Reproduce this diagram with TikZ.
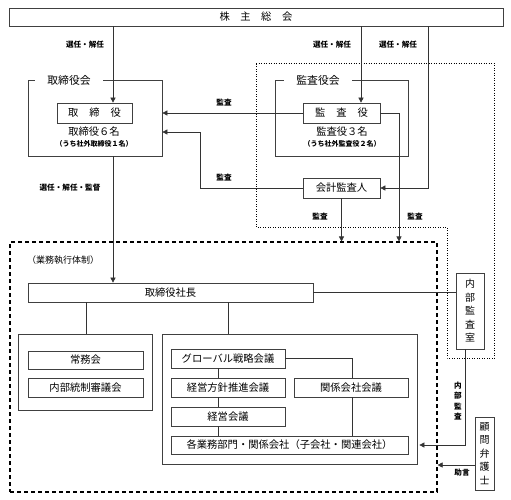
\documentclass[tikz,border=0pt]{standalone}
\usepackage{fontspec}
\setmainfont{Noto Sans CJK JP}
\usetikzlibrary{arrows.meta,calc}
\begin{document}
\begin{tikzpicture}[x=1pt,y=-1pt,
  box/.style={draw=black!75, line width=0.7pt, fill=white, inner sep=0pt, anchor=center,
    font=\fontsize{10.3}{12}\selectfont},
  bigbox/.style={draw=black!75, line width=0.7pt, inner sep=0pt, anchor=center},
  lbl/.style={font=\fontsize{7.6}{9}\selectfont\bfseries, inner sep=1pt},
  ttl/.style={font=\fontsize{10.8}{12}\selectfont, fill=white, inner ysep=2pt, inner xsep=12pt},
  ln/.style={line width=0.6pt, draw=black!80},
  arr/.style={ln, -{Triangle[length=5pt,width=5pt]}}]
\useasboundingbox (0,0) rectangle (511,499);
\fill[white] (0,0) rectangle (511,499);
% dotted audit region
\draw[dotted, line width=0.5pt] (256,63) -- (494,63) -- (494,358) -- (447,358) -- (447,227) -- (256,227) -- cycle;
% dashed execution region
\node[bigbox, draw=black, dashed, dash pattern=on 4pt off 3pt, line width=1.1pt, minimum width=427pt, minimum height=250pt] (gyomu) at (223.5,367) {};
\node[font=\fontsize{9}{10}\selectfont, anchor=west, inner sep=0pt] (gyomut) at (27,260) {（業務執行体制）};
% top
\node[box, minimum width=494pt, minimum height=18pt] (kabu) at (256,17) {株\hspace{10.5pt}主\hspace{10.5pt}総\hspace{10.5pt}会};
% board
\node[bigbox, minimum width=134pt, minimum height=76pt] (torikai) at (95,118) {};
\node[ttl] (torikait) at (69,80) {取締役会};
\node[box, minimum width=75pt, minimum height=20pt] (tori) at (94.5,113) {取\hspace{11pt}締\hspace{11pt}役};
\node[font=\fontsize{10.3}{12}\selectfont, inner sep=0pt] (torin) at (94,132) {取締役６名};
\node[font=\fontsize{7}{8}\selectfont\bfseries, inner sep=0pt] (torish) at (94,144) {（うち社外取締役１名）};
% audit board
\node[bigbox, minimum width=133pt, minimum height=76pt] (kansakai) at (341.5,118) {};
\node[ttl] (kansakait) at (318,80) {監査役会};
\node[box, minimum width=77pt, minimum height=20pt] (kansa) at (341.5,113) {監\hspace{11pt}査\hspace{11pt}役};
\node[font=\fontsize{10.3}{12}\selectfont, inner sep=0pt] (kansan) at (342,132) {監査役３名};
\node[font=\fontsize{7}{8}\selectfont\bfseries, inner sep=0pt] (kansash) at (342,144) {（うち社外監査役２名）};
\node[box, minimum width=77pt, minimum height=20pt] (kaikei) at (341.5,188) {会計監査人};
% coordinates for vertical lines
\coordinate (x113) at (113,0);
\coordinate (x361) at (361,0);
\coordinate (x428) at (428,0);
\coordinate (x399) at (399,0);
\coordinate (x200) at (200,0);
\coordinate (y132) at (0,132);
\coordinate (x465) at (465,0);
\coordinate (y465) at (0,465);
\coordinate (x86) at (86,0);
\coordinate (x228) at (228,0);
\coordinate (x218) at (218,0);
\coordinate (x352) at (352,0);
% connectors top
\draw[arr] (kabu.south -| x113) -- (tori.north -| x113);
\node[lbl] (l1) at (85,45) {選任・解任};
\draw[arr] (kabu.south -| x361) -- (kansa.north -| x361);
\node[lbl] (l2) at (332,45) {選任・解任};
\draw[arr] (kabu.south -| x428) -- (kaikei.east -| x428) -- (kaikei.east);
\node[lbl] (l3) at (398,45) {選任・解任};
\draw[arr] (kansa.west) -- (kansa.west -| torikai.east);
\node[lbl] (l4) at (224,103) {監査};
\draw[arr] (kansa.east) -- (kansa.east -| x399) -- (gyomu.north -| x399);
\node[lbl] (l5) at (415,217) {監査};
\draw[arr] (kaikei.west) -- (kaikei.west -| x200) -- (x200 |- y132) -- (y132 -| torikai.east);
\node[lbl] (l6) at (224,178) {監査};
\draw[arr] (kaikei.south) -- (kaikei.south |- gyomu.north);
\node[lbl] (l7) at (320,217) {監査};
% execution
\node[box, minimum width=285pt, minimum height=19pt] (shacho) at (170.5,292.5) {取締役社長};
\draw[arr] (torikai.south -| x113) -- (shacho.north -| x113);
\node[lbl] (l8) at (70,188) {選任・解任・監督};
\node[box, minimum width=28pt, minimum height=76pt, align=center, font=\fontsize{10}{13.5}\selectfont] (naibu) at (470,311) {内\\部\\監\\査\\室};
\draw[ln] (shacho.east) -- (shacho.east -| naibu.west);
\node[bigbox, minimum width=134pt, minimum height=76pt] (hidari) at (85,372) {};
\node[bigbox, minimum width=255pt, minimum height=130pt] (migi) at (289.5,399) {};
\draw[ln] (shacho.south -| x86) -- (hidari.north -| x86);
\draw[ln] (shacho.south -| x228) -- (migi.north -| x228);
\node[box, minimum width=115pt, minimum height=18pt] (jomu) at (85.5,360) {常務会};
\node[box, minimum width=115pt, minimum height=19pt] (naitou) at (85.5,387.5) {内部統制審議会};
\node[box, minimum width=114pt, minimum height=19pt] (glob) at (228,358.5) {グローバル戦略会議};
\node[box, minimum width=114pt, minimum height=19pt] (keiho) at (228,387.5) {経営方針推進会議};
\node[box, minimum width=114pt, minimum height=19pt] (kankei) at (351,387.5) {関係会社会議};
\node[box, minimum width=114pt, minimum height=19pt] (keiei) at (228,416.5) {経営会議};
\node[box, minimum width=237pt, minimum height=18pt] (kaku) at (289.5,445) {各業務部門・関係会社（子会社・関連会社）};
\draw[ln] (glob.south -| x218) -- (keiho.north -| x218);
\draw[ln] (keiho.south -| x218) -- (keiei.north -| x218);
\draw[ln] (keiei.south -| x218) -- (kaku.north -| x218);
\draw[ln] (glob.east) -- (glob.east -| x352) -- (kankei.north -| x352);
\draw[ln] (kankei.south -| x352) -- (kaku.north -| x352);
% internal audit and lawyer
\draw[arr] (naibu.south -| x465) -- (x465 |- kaku.east) -- ($(migi.east |- kaku.east)+(2,0)$);
\node[lbl, align=center, font=\fontsize{7.6}{10.5}\selectfont\bfseries] (l9) at (458,401) {内\\部\\監\\査};
\node[box, minimum width=19pt, minimum height=73pt, align=center, font=\fontsize{10}{13.5}\selectfont] (komon) at (484.5,453.5) {顧\\問\\弁\\護\\士};
\draw[arr] (komon.west |- y465) -- (gyomu.east |- y465);
\node[lbl] (l10) at (462,473) {助言};
\end{tikzpicture}
\end{document}
